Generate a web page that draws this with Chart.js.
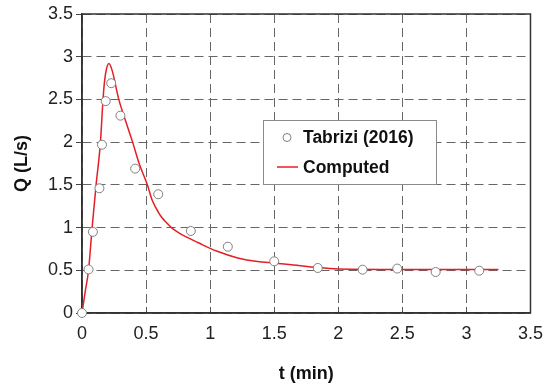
<!DOCTYPE html>
<html>
<head>
<meta charset="utf-8">
<script src="https://cdn.jsdelivr.net/npm/chart.js@4"></script>
<style>
html,body{margin:0;padding:0;background:#fff;}
#wrap{width:553px;height:387px;}
</style>
</head>
<body>
<div id="wrap"><canvas id="c" width="553" height="387"></canvas></div>
<script>
// Measured data: Tabrizi (2016)
const measuredT = [0, 0.051, 0.085, 0.136, 0.156, 0.185, 0.228, 0.30, 0.415, 0.595, 0.849, 1.138, 1.50, 1.84, 2.19, 2.46, 2.76, 3.10];
const measuredQ = [0, 0.51, 0.95, 1.46, 1.97, 2.48, 2.69, 2.31, 1.69, 1.39, 0.96, 0.776, 0.605, 0.527, 0.507, 0.52, 0.48, 0.495];

// Computed curve
const computedT = [0, 0.025, 0.051, 0.079, 0.11, 0.144, 0.164, 0.175, 0.19, 0.21, 0.235, 0.287, 0.34, 0.395, 0.446, 0.51, 0.548, 0.60, 0.625, 0.651, 0.70, 0.75, 0.805, 0.908, 1.05, 1.215, 1.37, 1.5, 1.677, 1.82, 2.0, 2.5, 3.0, 3.25];
const computedQ = [0, 0.25, 0.50, 1.0, 1.5, 2.0, 2.5, 2.7, 2.85, 2.92, 2.84, 2.5, 2.25, 2.0, 1.75, 1.5, 1.32, 1.17, 1.115, 1.07, 0.996, 0.944, 0.897, 0.822, 0.725, 0.645, 0.602, 0.585, 0.56, 0.535, 0.515, 0.51, 0.51, 0.51];

const seriesNames = ['Tabrizi (2016)', 'Computed'];
const xTitle = 't (min)';
const yTitle = 'Q (L/s)';

const FONT = "'Liberation Sans', Arial, sans-serif";
const RED = '#e41f26';
const PT_BORDER = '#808080';

const framePlugin = {
  id: 'frame',
  beforeDatasetsDraw(chart) {
    const {ctx, chartArea: a, scales} = chart;
    ctx.save();
    ctx.strokeStyle = '#555';
    ctx.lineWidth = 1;
    scales.x.ticks.forEach(t => {
      const x = Math.round(scales.x.getPixelForValue(t.value)) + 0.5;
      ctx.beginPath();
      ctx.moveTo(x, a.bottom);
      ctx.lineTo(x, a.bottom - 6);
      ctx.stroke();
    });
    ctx.strokeStyle = '#333';
    ctx.lineWidth = 1.5;
    ctx.strokeRect(a.left, a.top, a.right - a.left, a.bottom - a.top);
    ctx.restore();
  },
  afterDraw(chart) {
    const {ctx} = chart;
    ctx.save();
    ctx.fillStyle = '#fff';
    ctx.fillRect(263.5, 120.5, 173, 64);
    ctx.strokeStyle = '#8a8a8a';
    ctx.lineWidth = 1;
    ctx.strokeRect(263.5, 120.5, 173, 64);
    ctx.beginPath();
    ctx.arc(287, 137.5, 4, 0, Math.PI * 2);
    ctx.fillStyle = '#fff';
    ctx.fill();
    ctx.strokeStyle = PT_BORDER;
    ctx.stroke();
    ctx.beginPath();
    ctx.moveTo(277, 167);
    ctx.lineTo(298, 167);
    ctx.strokeStyle = RED;
    ctx.lineWidth = 1.5;
    ctx.stroke();
    ctx.fillStyle = '#111';
    ctx.font = "bold 17.5px " + FONT;
    ctx.textBaseline = 'middle';
    ctx.textAlign = 'left';
    ctx.fillText(seriesNames[0], 303, 138);
    ctx.fillText(seriesNames[1], 303, 168);
    ctx.restore();
  }
};

const tickFmt = v => String(Math.round(v * 10) / 10);

new Chart(document.getElementById('c'), {
  type: 'scatter',
  data: {
    datasets: [
      {
        label: seriesNames[0],
        data: measuredT.map((t, i) => ({x: t, y: measuredQ[i]})),
        showLine: false,
        pointRadius: 4.5,
        pointBackgroundColor: '#fff',
        pointBorderColor: PT_BORDER,
        pointBorderWidth: 1,
        clip: false,
        order: 0
      },
      {
        label: seriesNames[1],
        data: computedT.map((t, i) => ({x: t, y: computedQ[i]})),
        showLine: true,
        borderColor: RED,
        borderWidth: 1.5,
        pointRadius: 0,
        cubicInterpolationMode: 'monotone',
        order: 1
      }
    ]
  },
  options: {
    responsive: false,
    animation: false,
    devicePixelRatio: 1,
    layout: {padding: {left: 0, right: 14.5, top: 14, bottom: 0}},
    plugins: {legend: {display: false}, tooltip: {enabled: false}},
    scales: {
      x: {
        type: 'linear', min: 0, max: 3.5,
        ticks: {stepSize: 0.5, color: '#222', font: {family: FONT, size: 18}, padding: 10, maxRotation: 0, callback: tickFmt},
        grid: {color: '#666', lineWidth: 1, drawTicks: false},
        border: {display: true, color: '#333', width: 1.5, dash: [9, 5]},
        title: {display: true, text: xTitle, color: '#111', font: {family: FONT, size: 18, weight: 'bold', lineHeight: 1.2}, padding: {top: 0, bottom: 2}},
        afterFit(s) { s.height = 74; }
      },
      y: {
        type: 'linear', min: 0, max: 3.5,
        ticks: {stepSize: 0.5, color: '#222', font: {family: FONT, size: 18}, padding: 3, callback: tickFmt},
        grid: {color: '#666', lineWidth: 1, drawTicks: true, tickLength: 6, tickColor: '#444'},
        border: {display: true, color: '#333', width: 1.5, dash: [9, 5]},
        title: {display: true, text: yTitle, color: '#111', font: {family: FONT, size: 18, weight: 'bold', lineHeight: 1.2}, padding: {top: 11, bottom: 0}},
        afterFit(s) { s.width = 82; }
      }
    }
  },
  plugins: [framePlugin]
});
</script>
</body>
</html>
